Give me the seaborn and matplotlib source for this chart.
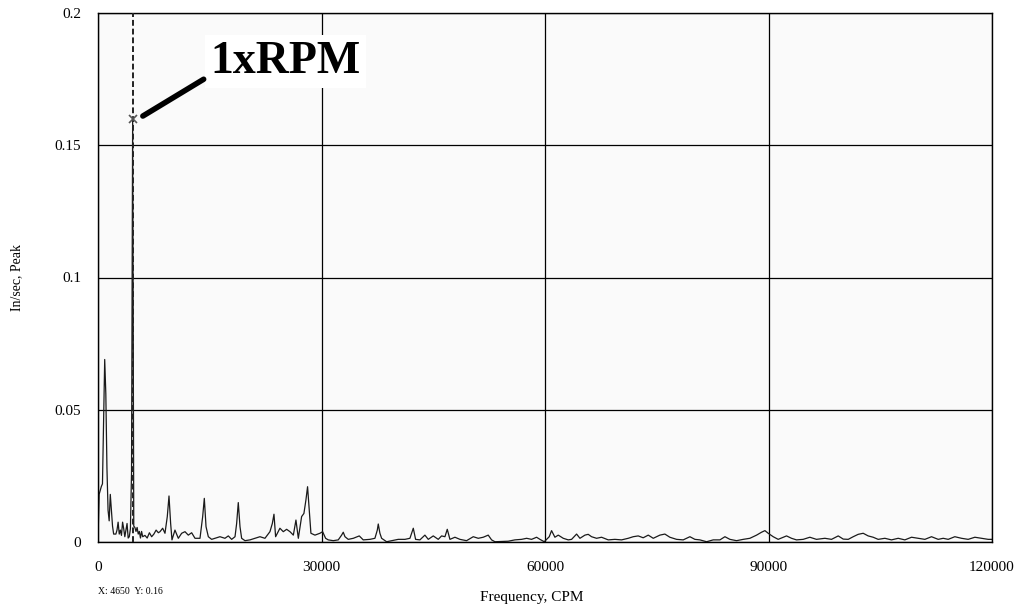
import matplotlib
matplotlib.use("Agg")
import matplotlib.pyplot as plt
import numpy as np
import pandas as pd
import seaborn as sns

# spectrum (CPM, in/sec peak)
freq = [0, 150, 450, 600, 750, 900, 1050, 1200, 1350, 1500, 1650, 1800, 1950, 2100, 2400,
        2550, 2700, 2850, 3000, 3150, 3300, 3450, 3600, 3750, 3900, 4050, 4200, 4350, 4500,
        4650, 4800, 4950, 5100, 5250, 5400, 5550, 5700, 5850, 6000, 6300, 6600, 6900, 7200,
        7500, 7800, 8100,
        8320, 8680, 8990, 9300, 9530, 9750, 9930, 10330, 10780, 11230, 11675, 12120, 12570,
        13020, 13690, 14050, 14270, 14500, 14810, 15255, 15700, 16370, 17040, 17490, 17940,
        18390, 18610, 18830, 19060, 19280, 19730, 20400, 21070, 21740, 22410, 23080, 23400,
        23620, 23840, 24420, 24870, 25320, 25770, 26220, 26570, 26890, 27330, 27640, 27910,
        28130, 28360, 28580, 29120, 29790, 30150, 30550, 30900,
        31580, 32250, 32700, 32920, 33150, 33590, 34270, 35070, 35600, 36500, 37170, 37490,
        37620, 37840, 38070, 38740, 39410, 40300, 41200, 41870, 42320, 42630, 43210, 43880,
        44330, 45000, 45670, 46120, 46570, 46880, 47240, 47910, 48580, 49470, 50370, 51040,
        51710, 52380,
        52830, 53280, 55070, 55960, 56860, 57530, 58200, 58870, 59320, 59900, 60570, 60880,
        61330, 61780, 62450, 63120, 63570, 64240, 64690, 65360, 65800, 66250, 66920, 67590,
        68490, 69380, 70280, 71170, 71840, 72510, 73180, 73860, 74530,
        75420, 76090, 76760, 77660, 78550, 79450, 80120, 80790, 81690, 82580, 83480, 84150,
        84820, 85710, 86610, 87500, 88400, 89070, 89520, 89960, 90630, 91300, 91970, 92420,
        93090, 93760, 94650, 95550, 96440,
        97570, 98460, 99360, 100030, 100700, 101370, 102040, 102710, 103380, 104050, 104720,
        105620, 106510, 107410, 108300, 109200, 110090, 110990, 111880, 112780, 113450,
        114120, 115010, 115910, 116800, 117700, 118590, 119490, 120000]
amp = [0.001, 0.018, 0.021, 0.022, 0.045, 0.069, 0.056, 0.028, 0.012, 0.008, 0.018, 0.012,
       0.006, 0.003, 0.003, 0.0045, 0.0075, 0.003, 0.0045, 0.0025, 0.0075, 0.005, 0.002,
       0.0045, 0.007, 0.0015, 0.002, 0.005, 0.026, 0.16, 0.006, 0.0055, 0.004, 0.0055, 0.003,
       0.004, 0.0015, 0.004, 0.002, 0.0025, 0.0015, 0.0035, 0.002, 0.003, 0.0045, 0.0035,
       0.0039, 0.0052, 0.0033, 0.0096, 0.0174, 0.007, 0.0008, 0.0045, 0.0014, 0.0033, 0.0039,
       0.0026, 0.0035, 0.0014, 0.0014, 0.0096, 0.0165, 0.0058, 0.002, 0.001, 0.0014, 0.002,
       0.0014, 0.0023, 0.001, 0.002, 0.007, 0.0149, 0.0058, 0.0014, 0.0005, 0.0008, 0.0014,
       0.002, 0.0014, 0.0039, 0.007, 0.0105, 0.002, 0.0052, 0.0039, 0.0048, 0.0039, 0.0026,
       0.0083, 0.0014, 0.0096, 0.0108, 0.0159, 0.0209, 0.012, 0.0033, 0.0026, 0.0033, 0.0039,
       0.0014, 0.0008,
       0.0005, 0.0008, 0.0026, 0.0037, 0.002, 0.001, 0.0014, 0.0023, 0.0008, 0.001, 0.0014,
       0.0045, 0.0068, 0.0033, 0.0014, 0.0001, 0.0005, 0.001, 0.001, 0.0014, 0.0052, 0.001,
       0.0008, 0.0026, 0.001, 0.0023, 0.001, 0.0023, 0.002, 0.0048, 0.001, 0.0018, 0.001,
       0.0005, 0.002, 0.0014, 0.0018, 0.0026,
       0.0008, 0.0001, 0.0003, 0.0008, 0.001, 0.0014, 0.001, 0.0018, 0.001, 0.0001, 0.002,
       0.0043, 0.0018, 0.0026, 0.0014, 0.0008, 0.001, 0.003, 0.0014, 0.0026, 0.0029, 0.002,
       0.0014, 0.0018, 0.0008, 0.001, 0.0008, 0.0014, 0.002, 0.0023, 0.0016, 0.0026, 0.0014,
       0.0026, 0.003, 0.0018, 0.001, 0.0008, 0.002, 0.001, 0.0008, 0.0001, 0.0008, 0.0008,
       0.002, 0.001, 0.0005, 0.001, 0.0014, 0.0026, 0.0037, 0.0043, 0.0033, 0.002, 0.001,
       0.0018, 0.0023, 0.0014, 0.0008, 0.001, 0.0018, 0.001,
       0.0014, 0.001, 0.0023, 0.0011, 0.001, 0.002, 0.0029, 0.0033, 0.0023, 0.0018, 0.001,
       0.0014, 0.0008, 0.0014, 0.0008, 0.0018, 0.0014, 0.001, 0.002, 0.001, 0.0014, 0.001,
       0.002, 0.0014, 0.001, 0.0018, 0.0014, 0.001, 0.001]

cursor_x = 4650
cursor_y = 0.16
x_ticks = [0, 30000, 60000, 90000, 120000]
y_ticks = [0, 0.05, 0.1, 0.15, 0.2]
y_tick_labels = ["0", "0.05", "0.1", "0.15", "0.2"]

df = pd.DataFrame({"Frequency": freq, "Amplitude": amp})

sns.set_style("white")
plt.rcParams['font.family'] = ['Liberation Serif', 'DejaVu Serif']
plt.rcParams['text.color'] = 'black'
plt.rcParams['axes.labelcolor'] = 'black'
plt.rcParams['xtick.color'] = 'black'
plt.rcParams['ytick.color'] = 'black'

fig = plt.figure(figsize=(10.16, 6.09), dpi=100)
ax = fig.add_axes([98 / 1016, 1 - 542 / 609, 894 / 1016, 529 / 609])
ax.set_facecolor("#fafafa")

sns.lineplot(data=df, x="Frequency", y="Amplitude", color="#1a1a1a", lw=0.9, ax=ax)

# cursor at 1xRPM
ax.plot([cursor_x, cursor_x], [0, 0.2], color="#222222", ls=(0, (3, 1.5)), lw=1.4, zorder=3)
ax.plot(cursor_x, cursor_y, marker="x", color="#555555", ms=6, mew=1.2, zorder=4)

ax.text(25200, 0.1815, "1xRPM", fontsize=33, fontweight="bold", ha="center", va="center",
        color="black", zorder=5,
        bbox=dict(boxstyle="square,pad=0.12", fc="white", ec="none"))
ax.annotate("", xy=(5700, 0.1605), xytext=(14500, 0.1755), zorder=6,
            arrowprops=dict(arrowstyle="-", color="black", lw=4, capstyle="round"))

ax.set_xlim(0, 120000)
ax.set_ylim(0, 0.2)
ax.set_xticks(x_ticks)
ax.set_xticklabels([str(t) for t in x_ticks])
ax.set_yticks(y_ticks)
ax.set_yticklabels(y_tick_labels)
ax.tick_params(axis="both", length=0, labelsize=11)
ax.tick_params(axis="x", pad=14)
ax.tick_params(axis="y", pad=12)
ax.grid(True, color="black", lw=0.9)
ax.set_axisbelow(True)
for s in ax.spines.values():
    s.set_color("black")
    s.set_linewidth(1)

ax.set_xlabel("Frequency, CPM", fontsize=11)
ax.xaxis.set_label_coords(0.485, -0.093)
ax.set_ylabel("In/sec, Peak", fontsize=10)
ax.yaxis.set_label_coords(-0.084, 0.5)

fig.text(98 / 1016, 1 - 591 / 609, "X: 4650  Y: 0.16", fontsize=7, va="center")

fig.savefig("out.png", dpi=100)
